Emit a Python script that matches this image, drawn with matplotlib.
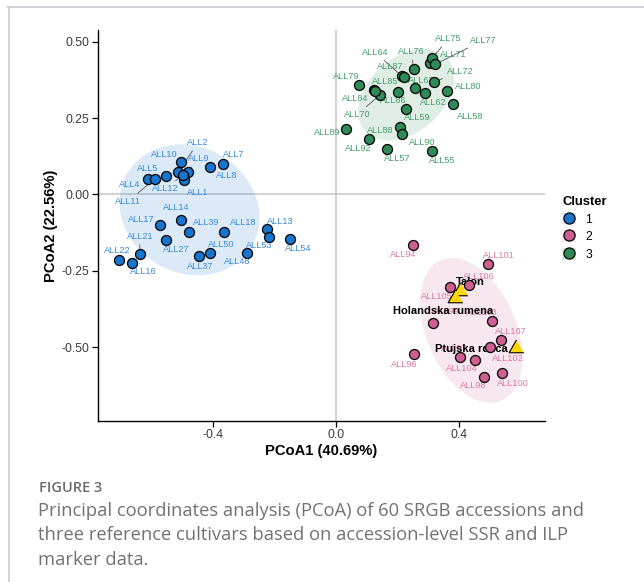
import numpy as np
import matplotlib
matplotlib.use("Agg")
import matplotlib.pyplot as plt
from matplotlib.patches import Patch
from matplotlib.lines import Line2D
from matplotlib.legend_handler import HandlerTuple

plt.rcParams['font.family'] = ['Liberation Sans', 'DejaVu Sans']

# PCoA scores per cluster (accessions)
c1_ids = ['ALL1', 'ALL2', 'ALL4', 'ALL5', 'ALL7', 'ALL8', 'ALL9', 'ALL10', 'ALL11', 'ALL12',
          'ALL13', 'ALL14', 'ALL16', 'ALL17', 'ALL18', 'ALL21', 'ALL22', 'ALL27', 'ALL37',
          'ALL39', 'ALL48', 'ALL50', 'ALL53', 'ALL54']
c1_x = [-0.493, -0.513, -0.611, -0.553, -0.366, -0.409, -0.482, -0.505, -0.588, -0.498,
        -0.224, -0.503, -0.661, -0.572, -0.363, -0.637, -0.704, -0.553, -0.445,
        -0.478, -0.289, -0.408, -0.216, -0.149]
c1_y = [0.047, 0.072, 0.051, 0.061, 0.100, 0.090, 0.075, 0.105, 0.052, 0.064,
        -0.113, -0.082, -0.224, -0.099, -0.122, -0.195, -0.213, -0.149, -0.202,
        -0.122, -0.190, -0.193, -0.140, -0.146]

c2_ids = ['ALL94', 'ALL96', 'ALL97', 'ALL98', 'ALL99', 'ALL100', 'ALL101', 'ALL102',
          'ALL103', 'ALL104', 'ALL105', 'ALL106', 'ALL107']
c2_x = [0.251, 0.253, 0.402, 0.481, 0.315, 0.539, 0.494, 0.499, 0.508, 0.451, 0.370, 0.431, 0.537]
c2_y = [-0.166, -0.523, -0.533, -0.597, -0.419, -0.584, -0.228, -0.499, -0.414, -0.542,
        -0.304, -0.297, -0.477]

c3_ids = ['ALL55', 'ALL57', 'ALL58', 'ALL59', 'ALL62', 'ALL63', 'ALL64', 'ALL70', 'ALL71',
          'ALL72', 'ALL75', 'ALL76', 'ALL77', 'ALL79', 'ALL80', 'ALL84', 'ALL85', 'ALL86',
          'ALL87', 'ALL88', 'ALL89', 'ALL90', 'ALL92']
c3_x = [0.313, 0.166, 0.380, 0.228, 0.290, 0.257, 0.214, 0.143, 0.307, 0.318, 0.313, 0.252,
        0.323, 0.076, 0.360, 0.123, 0.128, 0.200, 0.221, 0.208, 0.033, 0.214, 0.107]
c3_y = [0.143, 0.148, 0.295, 0.280, 0.331, 0.347, 0.387, 0.326, 0.431, 0.367, 0.445, 0.412,
        0.426, 0.357, 0.340, 0.343, 0.340, 0.336, 0.383, 0.220, 0.213, 0.197, 0.180]

# reference cultivars
ref_names = ['Talon', 'Holandska rumena', 'Ptujska rdeca']
ref_x = [0.404, 0.387, 0.586]
ref_y = [-0.316, -0.340, -0.501]

# label offsets (pixels) from each point, as placed by the repel layout
lab_off = {
    'ALL1': (14, -12), 'ALL2': (20, 30), 'ALL4': (-18, -6), 'ALL5': (-18, 7), 'ALL7': (10, 9),
    'ALL8': (17, -9), 'ALL9': (11, 13), 'ALL10': (-16, 8), 'ALL11': (-27, -23),
    'ALL12': (-17, -14), 'ALL13': (13, 8), 'ALL14': (-5, 12), 'ALL16': (11, -9),
    'ALL17': (-19, 5), 'ALL18': (19, 9), 'ALL21': (0, 18), 'ALL22': (-2, 9), 'ALL27': (11, -9),
    'ALL37': (1, -10), 'ALL39': (17, 9), 'ALL48': (-10, -9), 'ALL50': (11, 9),
    'ALL53': (-10, -8), 'ALL54': (8, -9),
    'ALL55': (10, -10), 'ALL57': (10, -9), 'ALL58': (17, -12), 'ALL59': (11, -9),
    'ALL62': (8, -9), 'ALL63': (6, 8), 'ALL64': (-27, 24), 'ALL70': (-23, -20),
    'ALL71': (23, 8), 'ALL72': (26, 11), 'ALL75': (16, 20), 'ALL76': (-2, 17),
    'ALL77': (48, 24), 'ALL79': (-13, 9), 'ALL80': (21, 4), 'ALL84': (-19, -9),
    'ALL85': (10, 9), 'ALL86': (-4, -9), 'ALL87': (-14, 11), 'ALL88': (-20, -3),
    'ALL89': (-19, -3), 'ALL90': (20, -8), 'ALL92': (-11, -9),
    'ALL94': (-10, -9), 'ALL96': (-10, -10), 'ALL97': (-5, 9), 'ALL98': (-11, -9),
    'ALL99': (13, 11), 'ALL100': (11, -10), 'ALL101': (11, 9), 'ALL102': (18, -11),
    'ALL103': (-11, 9), 'ALL104': (-13, -8), 'ALL105': (-13, -9), 'ALL106': (10, 9),
    'ALL107': (10, 9),
}
with_segment = {'ALL2', 'ALL9', 'ALL11', 'ALL12', 'ALL21', 'ALL64', 'ALL70', 'ALL72',
                'ALL75', 'ALL76', 'ALL77'}
ref_off = [(10, 9), (-12, -13), (-45, -1)]

point_cols = ['#1874CD', '#CD6090', '#2E8B57']
text_cols = ['#3A8BDA', '#DB79A3', '#45A06B']


def trob_ellipse(x, y, level, nu=5, n_pts=200):
    """Robust (multivariate t) confidence ellipse, like stat_ellipse(type='t')."""
    X = np.column_stack([x, y])
    n, p = X.shape
    w = np.ones(n)
    loc = X.mean(axis=0)
    for _ in range(200):
        w0 = w
        D = X - loc
        S = (D * (w / w.sum())[:, None]).T @ D
        Q = np.einsum('ij,jk,ik->i', D, np.linalg.inv(S), D)
        w = (nu + p) / (nu + Q)
        loc = (w[:, None] * X).sum(axis=0) / w.sum()
        if np.all(np.abs(w - w0) < 1e-6):
            break
    D = X - loc
    cov = (D * w[:, None]).T @ D / n
    dfd = n - 1
    fq = dfd / 2 * ((1 - level) ** (-2 / dfd) - 1)
    radius = np.sqrt(2 * fq)
    t = np.linspace(0, 2 * np.pi, n_pts)
    circ = np.column_stack([np.cos(t), np.sin(t)])
    L = np.linalg.cholesky(cov)
    pts = loc + radius * circ @ L.T
    return pts[:, 0], pts[:, 1]


fig = plt.figure(figsize=(6.44, 5.82), dpi=100)
ax = fig.add_axes([98 / 644, 1 - 421 / 582, (545 - 98) / 644, (421 - 30) / 582])

clusters = [(c1_ids, c1_x, c1_y), (c2_ids, c2_x, c2_y), (c3_ids, c3_x, c3_y)]

for k, (ids, xs, ys) in enumerate(clusters):
    ex, ey = trob_ellipse(np.array(xs), np.array(ys), level=0.8)
    ax.fill(ex, ey, color=point_cols[k], alpha=0.15, lw=0, zorder=1)

ax.axhline(0, color='#c8c8c8', lw=1.1, zorder=0.5)
ax.axvline(0, color='#c8c8c8', lw=1.1, zorder=0.5)

for k, (ids, xs, ys) in enumerate(clusters):
    for name, xv, yv in zip(ids, xs, ys):
        arrow = None
        if name in with_segment:
            arrow = dict(arrowstyle='-', color='#555555', lw=0.6, shrinkA=1, shrinkB=3)
        ax.annotate(name, (xv, yv), xytext=lab_off[name], textcoords='offset pixels',
                    ha='center', va='center', fontsize=6.6, color=text_cols[k],
                    arrowprops=arrow, zorder=2)

for name, xv, yv, off in zip(ref_names, ref_x, ref_y, ref_off):
    ax.annotate(name, (xv, yv), xytext=off, textcoords='offset pixels', ha='center',
                va='center', fontsize=8, fontweight='bold', color='black', zorder=3)

for k, (ids, xs, ys) in enumerate(clusters):
    ax.scatter(xs, ys, s=52, c=point_cols[k], edgecolors='black', linewidths=0.9, zorder=4)

tri = [(0, 0.577), (-0.5, -0.289), (0.5, -0.289)]
ax.scatter(ref_x, ref_y, s=150, marker=tri, c='#FFD700', edgecolors='black',
           linewidths=0.8, zorder=5)

ax.set_xlim(-0.773, 0.679)
ax.set_ylim(-0.741, 0.538)
ax.set_xticks([-0.4, 0.0, 0.4])
ax.set_xticklabels(['-0.4', '0.0', '0.4'])
ax.set_yticks([0.5, 0.25, 0.0, -0.25, -0.5])
ax.set_yticklabels(['0.50', '0.25', '0.00', '-0.25', '-0.50'])
for s in ['top', 'right']:
    ax.spines[s].set_visible(False)
for s in ['left', 'bottom']:
    ax.spines[s].set_linewidth(1.0)
ax.tick_params(length=4, width=0.9, labelsize=8.8, labelcolor='#3a3a3a', pad=2)
ax.set_xlabel('PCoA1 (40.69%)', fontsize=10.6, fontweight='bold', labelpad=2)
ax.set_ylabel('PCoA2 (22.56%)', fontsize=10.6, fontweight='bold', labelpad=3)

handles = [(Patch(facecolor=c, alpha=0.15, lw=0),
            Line2D([], [], ls='none', marker='o', markersize=8, markerfacecolor=c,
                   markeredgecolor='black', markeredgewidth=0.9)) for c in point_cols]
fig.legend(handles, ['1', '2', '3'], title='Cluster', loc='upper left',
           bbox_to_anchor=(556 / 644, 1 - 190 / 582), frameon=False, fontsize=8.8,
           title_fontproperties={'weight': 'bold', 'size': 9.4},
           handler_map={tuple: HandlerTuple(ndivide=1)}, handlelength=1.1,
           handleheight=1.1, handletextpad=0.8, labelspacing=0.38, alignment='left',
           borderaxespad=0, borderpad=0.5)

# panel frame
fig.add_artist(Line2D([8 / 644, 1], [1 - 6.5 / 582] * 2, color='#c9c9d3', lw=1.2))
fig.add_artist(Line2D([8.5 / 644] * 2, [0, 1 - 6.5 / 582], color='#c9c9d3', lw=1.2))

cap_font = ['Open Sans', 'DejaVu Sans']
fig.text(39 / 644, 1 - 492 / 582, 'FIGURE 3', family=cap_font, fontweight='semibold',
         fontsize=10.5, color='#6b6b6b', va='baseline')
caption = ['Principal coordinates analysis (PCoA) of 60 SRGB accessions and',
           'three reference cultivars based on accession-level SSR and ILP',
           'marker data.']
for i, line in enumerate(caption):
    fig.text(38 / 644, 1 - (516 + 24.4 * i) / 582, line, family=cap_font,
             fontsize=13.2, color='#727272', va='baseline')

fig.savefig('out.png', dpi=100)
